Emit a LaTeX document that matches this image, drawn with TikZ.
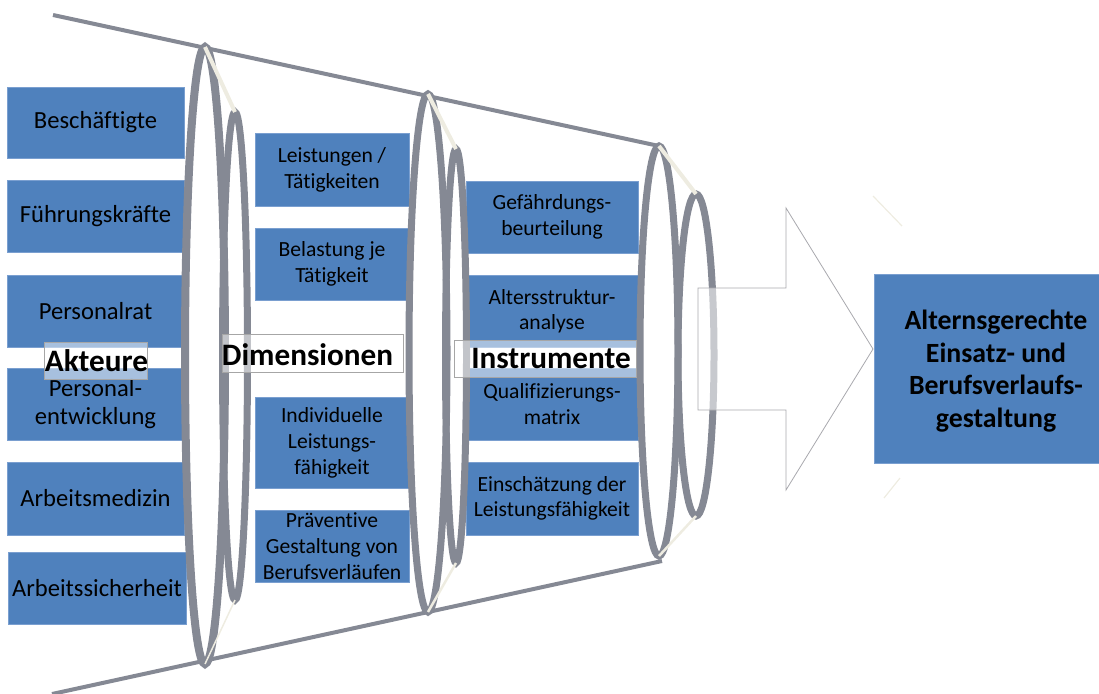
\documentclass[tikz,border=0pt]{standalone}
\usepackage{fontspec}
\setmainfont{Carlito}[Ligatures={NoCommon}]
\usetikzlibrary{shapes.geometric}
\definecolor{boxblue}{HTML}{4F81BD}
\definecolor{boxedge}{HTML}{7A9FD0}
\definecolor{ringgray}{HTML}{858994}
\definecolor{linkbeige}{HTML}{EEECE1}
\definecolor{lblgray}{HTML}{A6A6A6}
\definecolor{arrowgray}{HTML}{A9A9AE}
\begin{document}
\begin{tikzpicture}[x=1pt,y=-1pt,
  box/.style={fill=boxblue, draw=boxedge, line width=0.6pt, inner sep=0pt, outer sep=0pt,
    align=center, text=black, font=\fontsize{24.6}{28}\selectfont},
  dbox/.style={box, font=\fontsize{21.6}{26}\selectfont},
  ibox/.style={box, font=\fontsize{21.6}{25.5}\selectfont},
  goalbox/.style={fill=boxblue, draw=boxedge, line width=0.6pt, inner sep=0pt, outer sep=0pt},
  goaltext/.style={align=center, inner sep=0pt, text=black, font=\bfseries\fontsize{27.8}{32.5}\selectfont},
  lbl/.style={fill=white, fill opacity=0.5, draw=lblgray, line width=0.8pt, inner sep=0pt, outer sep=0pt},
  lbltext/.style={inner sep=0pt, text=black, font=\bfseries\fontsize{31.2}{34}\selectfont},
  ring/.style={ellipse, draw=ringgray, line width=7pt, inner sep=0pt, outer sep=0pt},
  funnel/.style={draw=ringgray, line width=4pt},
  link/.style={draw=linkbeige, line width=4pt},
  linkthin/.style={draw=linkbeige, line width=2.5pt},
  bigarrow/.style={fill=white, fill opacity=0.55, draw=arrowgray, line width=0.8pt, line join=miter},
  faint/.style={draw=linkbeige, line width=1.2pt}
]
\useasboundingbox (0,0) rectangle (1099,693);
\clip (0,0) rectangle (1099,693);

% Akteure column
\node[box, minimum width=177pt, minimum height=71pt] (a1) at (95.5,122.5) {Beschäftigte};
\node[box, minimum width=177pt, minimum height=72pt] (a2) at (95.5,216) {Führungskräfte};
\node[box, minimum width=177pt, minimum height=72pt] (a3) at (95.5,311) {Personalrat};
\node[box, minimum width=177pt, minimum height=72pt] (a4) at (95.5,404) {Personal-\\entwicklung};
\node[box, minimum width=177pt, minimum height=73pt] (a5) at (95.5,498.5) {Arbeitsmedizin};
\node[box, minimum width=178pt, minimum height=72pt] (a6) at (97,588) {Arbeitssicherheit};

% Dimensionen column
\node[dbox, minimum width=154pt, minimum height=73pt] (d1) at (332,169.5) {Leistungen /\\Tätigkeiten};
\node[dbox, minimum width=154pt, minimum height=72pt] (d2) at (332,264) {Belastung je\\Tätigkeit};
\node[dbox, minimum width=154pt, minimum height=91pt] (d3) at (332,442.5) {Individuelle\\Leistungs-\\fähigkeit};
\node[dbox, minimum width=154pt, minimum height=72pt] (d4) at (332,546) {Präventive\\Gestaltung von\\Berufsverläufen};

% Instrumente column
\node[ibox, minimum width=172pt, minimum height=72pt] (i1) at (552,217) {Gefährdungs-\\beurteilung};
\node[ibox, minimum width=172pt, minimum height=72pt] (i2) at (552,311) {Altersstruktur-\\analyse};
\node[ibox, minimum width=172pt, minimum height=72pt] (i3) at (552,404) {Qualifizierungs-\\matrix};
\node[ibox, minimum width=172pt, minimum height=73pt] (i4) at (552,498.5) {Einschätzung der\\Leistungsfähigkeit};

% rings
\node[ring, line width=8pt, minimum width=40pt, minimum height=617pt] (r1o) at (205,355.5) {};
\node[ring, minimum width=25pt, minimum height=488pt] (r1i) at (235,356) {};
\node[ring, minimum width=38pt, minimum height=518pt] (r2o) at (428,353) {};
\node[ring, minimum width=21pt, minimum height=414pt] (r2i) at (456,356) {};
\node[ring, minimum width=38pt, minimum height=410pt] (r3o) at (659,351) {};
\node[ring, minimum width=36pt, minimum height=322pt] (r3i) at (696,355) {};

% funnel lines
\coordinate (ft) at (53,15);
\coordinate (fb) at (52,694);
\coordinate (fbe) at (662,561);
\draw[funnel] (ft) -- (r3o.north);
\draw[funnel] (fb) -- (fbe);

% links between rings
\draw[link] (r1o.north) -- (r1i.north);
\draw[link] (r2o.north) -- (r2i.north);
\draw[link] (r3o.north) -- (r3i.north);
\draw[linkthin, line width=1.5pt] (r1o.south) -- (r1i.south);
\draw[linkthin] (r2o.south) -- (r2i.south);
\draw[linkthin] (r3o.south) -- (r3i.south);

% labels
\node[lbl, minimum width=103pt, minimum height=37pt] (l1) at (95.5,360.5) {};
\node[lbltext] (l1t) at (96.5,360.5) {Akteure};
\node[lbl, minimum width=181pt, minimum height=38pt] (l2) at (312.5,353) {};
\node[lbltext] (l2t) at (307.5,354.5) {Dimensionen};
\node[lbl, minimum width=182pt, minimum height=37pt] (l3) at (545,358.5) {};
\node[lbltext] (l3t) at (551,358.5) {Instrumente};

% big arrow
\draw[bigarrow] (698,288) -- (786,288) -- (786,208) -- (873,349) -- (786,490) -- (786,410) -- (698,410) -- cycle;

% goal box
\node[goalbox, minimum width=244pt, minimum height=189pt] (goal) at (996,368.5) {};
\node[goaltext] (goalt) at (996,371) {Alternsgerechte\\Einsatz- und\\Berufsverlaufs-\\gestaltung};

% faint marks
\coordinate (f1a) at (873,196);
\coordinate (f1b) at (902,226);
\coordinate (f2a) at (884,498);
\coordinate (f2b) at (900,478);
\draw[faint] (f1a) -- (f1b);
\draw[faint] (f2a) -- (f2b);
\end{tikzpicture}
\end{document}
